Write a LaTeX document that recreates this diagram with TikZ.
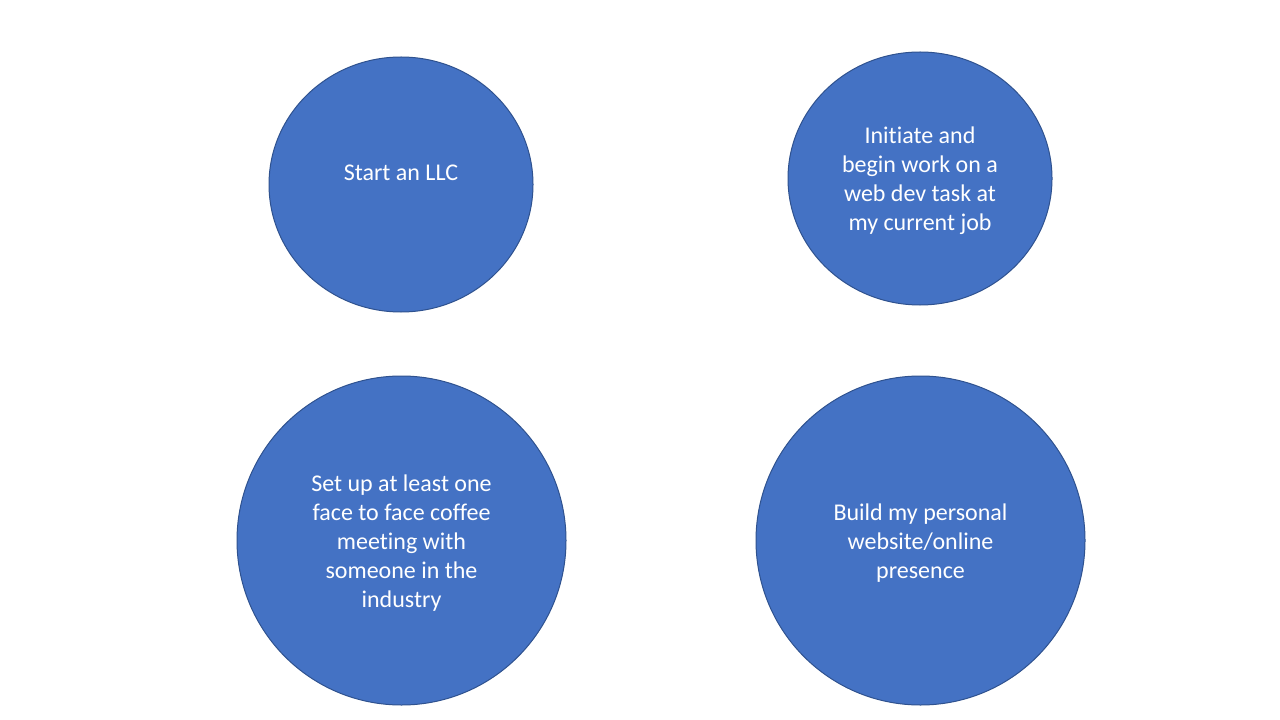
\documentclass[tikz,border=0pt]{standalone}
\usepackage{fontspec}
\setmainfont{Carlito}[Ligatures=NoCommon]
\usetikzlibrary{shapes.geometric}
\definecolor{goalfill}{HTML}{4472C4}
\definecolor{goalline}{HTML}{2F528F}
\begin{document}
\begin{tikzpicture}[x=0.75pt,y=-0.75pt,
  goal/.style={ellipse, fill=goalfill, draw=goalline, line width=0.75pt, inner sep=0pt},
  goaltext/.style={text=white, align=center, font=\fontsize{18}{21.75}\selectfont}]
  \useasboundingbox (0,0) rectangle (1280,720);
  \fill[white] (0,0) rectangle (1280,720);

  % four goal circles
  \node[goal, minimum width=264*0.75pt, minimum height=255*0.75pt] (llc) at (401,184.5) {};
  \node[goal, minimum width=264*0.75pt, minimum height=253*0.75pt] (web) at (920,178.5) {};
  \node[goal, minimum width=329*0.75pt, minimum height=329*0.75pt] (coffee) at (401.5,540.5) {};
  \node[goal, minimum width=329*0.75pt, minimum height=329*0.75pt] (site) at (920.5,540.5) {};

  % their texts
  \node[goaltext] (llct) at ([yshift=8.6pt]llc.center) {Start an LLC};
  \node[goaltext] (webt) at ([yshift=-1.9pt]web.center)
    {Initiate and\\begin work on a\\web dev task at\\my current job};
  \node[goaltext] (coffeet) at ([yshift=-1.9pt]coffee.center)
    {Set up at least one\\face to face coffee\\meeting with\\someone in the\\industry};
  \node[goaltext] (sitet) at ([yshift=-1.9pt]site.center)
    {Build my personal\\website/online\\presence};
\end{tikzpicture}
\end{document}
